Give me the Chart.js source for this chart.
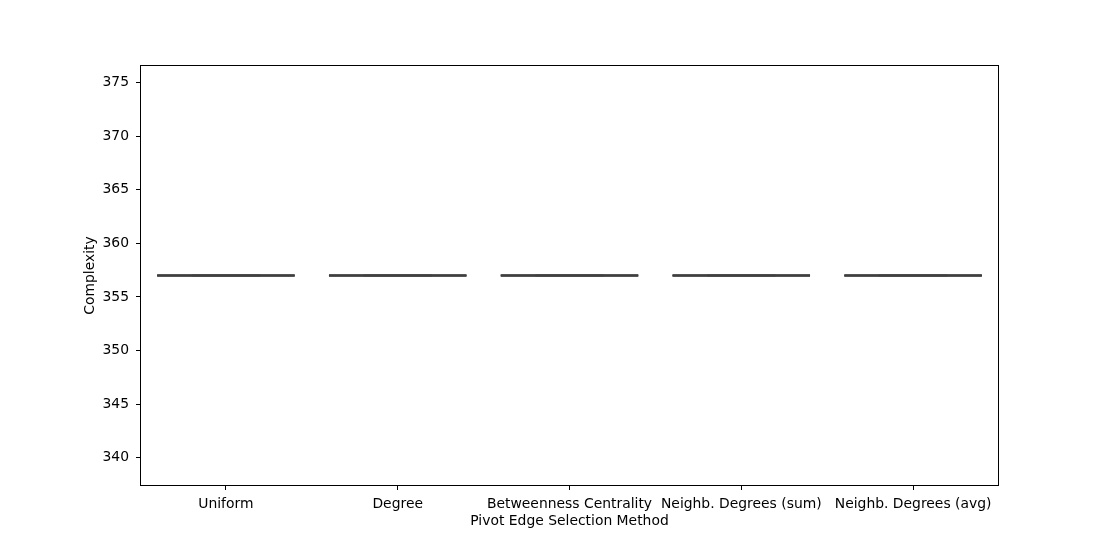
<!DOCTYPE html>
<html><head><meta charset="utf-8">
<script src="https://cdn.jsdelivr.net/npm/chart.js@4/dist/chart.umd.min.js"></script>
<style>html,body{margin:0;padding:0;background:#fff}#wrap{width:1109px;height:545px}</style>
</head><body><div id="wrap"><canvas id="c" width="1109" height="545"></canvas></div>
<script>
const categories = ["Uniform","Degree","Betweenness Centrality","Neighb. Degrees (sum)","Neighb. Degrees (avg)"];
const q1 = [357,357,357,357,357];
const medians = [357,357,357,357,357];
const q3 = [357,357,357,357,357];
const whiskLo = [357,357,357,357,357];
const whiskHi = [357,357,357,357,357];
const yTicks = [340,345,350,355,360,365,370,375];

function segs(vals, half){
  const pts=[];
  vals.forEach((v,i)=>{pts.push({x:i-half,y:v},{x:i+half,y:v},{x:i+half,y:null});});
  return pts;
}
const FONT = {family:"'DejaVu Sans'", size:13.9};
const boxPlugin = {
  id:'frame',
  afterDraw(chart){
    const a=chart.chartArea, ctx=chart.ctx;
    ctx.save();ctx.strokeStyle='#000';ctx.lineWidth=1;
    ctx.strokeRect(Math.round(a.left)+0.5,Math.round(a.top)+0.5,Math.round(a.right-a.left)-1,Math.round(a.bottom-a.top)-1);
    ctx.restore();
  }
};
new Chart(document.getElementById('c'),{
  type:'scatter',
  data:{datasets:[
    {data:segs(whiskLo,0.2),showLine:true,spanGaps:false,borderColor:'#6a6a6a',borderWidth:1.5,pointRadius:0},
    {data:segs(whiskHi,0.2),showLine:true,spanGaps:false,borderColor:'#6a6a6a',borderWidth:1.5,pointRadius:0},
    {data:segs(q1,0.4),showLine:true,spanGaps:false,borderColor:'#3f3f3f',borderWidth:2,pointRadius:0},
    {data:segs(q3,0.4),showLine:true,spanGaps:false,borderColor:'#3f3f3f',borderWidth:2,pointRadius:0},
    {data:segs(medians,0.4),showLine:true,spanGaps:false,borderColor:'#3f3f3f',borderWidth:2,pointRadius:0}
  ].reverse()},
  options:{
    responsive:false,animation:false,
    layout:{padding:{left:82,right:110,top:65,bottom:0}},
    plugins:{legend:{display:false},tooltip:{enabled:false}},
    scales:{
      x:{type:'linear',min:-0.5,max:4.5,
        afterFit(s){s.height=59;},
        grid:{display:true,drawOnChartArea:false,tickLength:4,color:'#000',tickColor:'#000'},
        border:{display:false},
        afterBuildTicks(s){s.ticks=categories.map((c,i)=>({value:i}));},
        ticks:{autoSkip:false,maxRotation:0,padding:6,color:'#000',font:FONT,callback:(v)=>categories[v]},
        title:{display:true,text:'Pivot Edge Selection Method',color:'#000',font:FONT,padding:{top:0,bottom:15}}
      },
      y:{min:337.365,max:376.635,
        afterFit(s){s.width=58;},
        grid:{display:true,drawOnChartArea:false,tickLength:4,color:'#000',tickColor:'#000'},
        border:{display:false},
        afterBuildTicks(s){s.ticks=yTicks.map(v=>({value:v}));},
        ticks:{padding:7,color:'#000',font:FONT},
        title:{display:true,text:'Complexity',color:'#000',font:FONT,padding:{top:0,bottom:0}}
      }
    }
  },
  plugins:[boxPlugin]
});
</script></body></html>
